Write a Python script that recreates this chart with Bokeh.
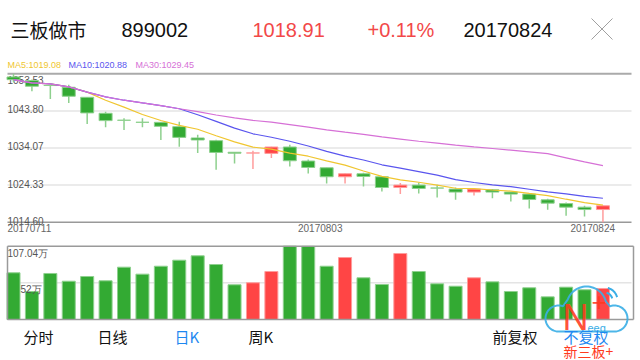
import numpy as np
from bokeh.plotting import figure
from bokeh.models import Range1d, ColumnDataSource
from bokeh.core.properties import value
from bokeh.embed import file_html
from bokeh.resources import INLINE

# ---------------- data ----------------
dates = ["20170711", "20170712", "20170713", "20170714", "20170717", "20170718", "20170719",
         "20170720", "20170721", "20170724", "20170725", "20170726", "20170727", "20170728",
         "20170731", "20170801", "20170802", "20170803", "20170804", "20170807", "20170808",
         "20170809", "20170810", "20170811", "20170814", "20170815", "20170816", "20170817",
         "20170818", "20170821", "20170822", "20170823", "20170824"]
opens = [1052.70, 1051.77, 1050.47, 1050.00, 1047.37, 1043.17, 1041.35, 1040.82, 1040.80, 1039.67,
         1036.70, 1035.99, 1032.95, 1032.74, 1032.65, 1034.33, 1030.65, 1028.88, 1026.52, 1027.31,
         1026.52, 1023.70, 1024.33, 1023.57, 1023.28, 1022.50, 1023.10, 1022.50, 1021.97, 1020.47,
         1019.49, 1018.55, 1017.92]
highs = [1053.53, 1052.03, 1050.50, 1050.64, 1047.40, 1043.60, 1041.85, 1041.85, 1040.90, 1040.98,
         1037.56, 1036.25, 1032.95, 1033.36, 1034.40, 1034.93, 1031.07, 1028.90, 1027.35, 1027.57,
         1026.60, 1024.86, 1025.00, 1024.41, 1023.70, 1023.30, 1023.28, 1022.50, 1022.00, 1020.73,
         1019.76, 1018.89, 1018.91]
lows = [1051.30, 1048.95, 1046.95, 1045.90, 1040.38, 1039.48, 1038.80, 1039.48, 1036.17, 1034.41,
        1032.75, 1028.36, 1030.00, 1028.54, 1031.43, 1029.23, 1027.38, 1024.75, 1024.75, 1023.97,
        1022.65, 1021.97, 1022.12, 1021.07, 1020.47, 1021.60, 1020.90, 1020.02, 1018.18, 1017.84,
        1016.26, 1016.08, 1014.60]
closes = [1052.00, 1050.27, 1050.45, 1047.64, 1043.27, 1041.25, 1041.33, 1040.80, 1039.75, 1036.85,
          1036.17, 1032.90, 1032.70, 1032.78, 1034.33, 1030.72, 1028.96, 1026.52, 1027.31, 1026.60,
          1023.70, 1024.33, 1023.44, 1023.55, 1022.50, 1023.28, 1022.50, 1021.97, 1020.55, 1019.60,
          1018.55, 1017.92, 1018.91]
volumes = [68.2, 40.9, 67.2, 55.9, 62.8, 56.5, 76.4, 66.2, 77.8, 86.6, 93.0, 80.3, 50.7, 53.6, 70.1,
           107.04, 106.8, 77.8, 90.5, 60.9, 51.1, 96.4, 70.1, 52.1, 48.6, 60.9, 55.0, 40.9, 46.3,
           33.1, 47.2, 43.4, 45.3]
ma5 = [1052.00, 1051.14, 1050.91, 1050.09, 1048.73, 1046.58, 1044.79, 1042.86, 1041.28, 1040.00,
       1038.98, 1037.29, 1035.68, 1034.29, 1033.79, 1032.70, 1031.91, 1030.67, 1029.57, 1028.02,
       1026.62, 1025.69, 1025.08, 1024.32, 1023.50, 1023.42, 1023.05, 1022.76, 1022.16, 1021.58,
       1020.63, 1019.72, 1019.08]
ma10 = [1052.00, 1051.14, 1050.91, 1050.09, 1048.73, 1047.48, 1046.60, 1045.88, 1045.20, 1044.36,
        1042.78, 1041.04, 1039.27, 1037.79, 1036.89, 1035.84, 1034.60, 1033.18, 1031.93, 1030.91,
        1029.66, 1028.80, 1027.87, 1026.95, 1025.76, 1025.02, 1024.37, 1023.92, 1023.24, 1022.54,
        1022.03, 1021.39, 1020.88]
ma30 = [1052.00, 1051.14, 1050.91, 1050.09, 1048.73, 1047.48, 1046.60, 1045.88, 1045.20, 1044.36,
        1043.62, 1042.72, 1041.96, 1041.30, 1040.84, 1040.21, 1039.54, 1038.82, 1038.21, 1037.63,
        1036.97, 1036.40, 1035.83, 1035.32, 1034.81, 1034.36, 1033.93, 1033.50, 1033.05, 1032.60,
        1031.49, 1030.41, 1029.45]
price_ticks = [1053.53, 1043.80, 1034.07, 1024.33, 1014.60]
vol_max = 107.04
vol_tick_labels = ["107.04万", "52万"]
date_labels = ["20170711", "20170803", "20170824"]
header_texts = ["三板做市", "899002", "1018.91", "+0.11%", "20170824"]
nav_texts = ["分时", "日线", "日K", "周K", "前复权", "不复权"]

# ---------------- layout ----------------
W, H = 640, 360
X0_PX, STEP_PX = 13.0, 18.42          # screen x of first candle and spacing
P_TOP_PX, P_BOT_PX = 73.3, 221.7      # price pane
V_TOP_PX, V_BOT_PX = 245.7, 319.0     # volume pane
SCR_T, SCR_B, SCR_L, SCR_R = 0, H, 0, W

pmax, pmin = price_ticks[0], price_ticks[-1]
ps = (P_BOT_PX - P_TOP_PX) / (pmax - pmin)
y_lo = pmin - (SCR_B - P_BOT_PX) / ps
y_hi = pmax + (P_TOP_PX - SCR_T) / ps
vs = (V_BOT_PX - V_TOP_PX) / vol_max
v_lo = -(SCR_B - V_BOT_PX) / vs
v_hi = vol_max + (V_TOP_PX - SCR_T) / vs
x_lo = (SCR_L - X0_PX) / STEP_PX
x_hi = (SCR_R - X0_PX) / STEP_PX

p = figure(width=W, height=H, x_range=Range1d(x_lo, x_hi), y_range=Range1d(y_lo, y_hi),
           x_axis_type=None, y_axis_type=None, toolbar_location=None, output_backend="svg",
           min_border=0, outline_line_color=None)
p.grid.visible = False
p.extra_y_ranges = {"vol": Range1d(v_lo, v_hi), "sy": Range1d(SCR_B, SCR_T)}
p.extra_x_ranges = {"sx": Range1d(SCR_L, SCR_R)}

GREEN, GREEN_L = "#33AA33", "#8ED08E"
RED, RED_L = "#FF4545", "#FF9C9C"
C_MA5, C_MA10, C_MA30 = "#F0C630", "#5A55EE", "#D670D6"
NUM_FONT = value("Liberation Sans")
CJK_FONT = value("Noto Sans CJK SC")

idx = np.arange(len(dates))
up = [c > o for o, c in zip(opens, closes)]
fill = [RED if u else GREEN for u in up]
light = [RED_L if u else GREEN_L for u in up]

xl, xr = (7 - X0_PX) / STEP_PX, (631 - X0_PX) / STEP_PX

# price pane grid / borders
p.segment(x0=[xl] * 3, x1=[xr] * 3, y0=price_ticks[1:4], y1=price_ticks[1:4],
          line_color="#E4E4E4", line_width=1.5)
p.segment(x0=[xl], x1=[xr], y0=[pmax], y1=[pmax], line_color="#AAAAAA", line_width=2)
p.segment(x0=[xl], x1=[xr], y0=[pmin], y1=[pmin], line_color="#999999", line_width=1.5)

# price tick labels
p.text(x=[xl], y=[pmax], text=["%.2f" % pmax], text_font=NUM_FONT, text_font_size="10px",
       text_color="#555555", text_baseline="top", y_offset=2)
p.text(x=[xl] * 4, y=price_ticks[1:], text=["%.2f" % t for t in price_ticks[1:]],
       text_font=NUM_FONT, text_font_size="10px", text_color="#555555",
       text_baseline="alphabetic", y_offset=-1.5)

# candles
src = ColumnDataSource(dict(x=idx, o=opens, h=highs, l=lows, c=closes,
                            top=[max(a, b) for a, b in zip(opens, closes)],
                            bot=[min(a, b) for a, b in zip(opens, closes)],
                            fill=fill, light=light, vol=volumes))
p.segment(x0="x", x1="x", y0="h", y1="l", line_color="light", line_width=1.5, source=src)
p.vbar(x="x", width=13 / STEP_PX, top="top", bottom="bot", fill_color="fill",
       line_color="light", line_width=1, source=src)

# moving averages
p.line(idx, ma5, line_color=C_MA5, line_width=1.2)
p.line(idx, ma10, line_color=C_MA10, line_width=1.2)
p.line(idx, ma30, line_color=C_MA30, line_width=1.2)

# MA legend
p.text(x=[7, 68, 135], y=[64.7] * 3,
       text=["MA5:%.2f" % ma5[-1], "MA10:%.2f" % ma10[-1], "MA30:%.2f" % ma30[-1]],
       text_color=[C_MA5, C_MA10, C_MA30], text_font=NUM_FONT, text_font_size="9px",
       text_baseline="middle", x_range_name="sx", y_range_name="sy")

# date labels
p.text(x=[xl, 16.65, 31.45], y=[227] * 3, text=date_labels, text_align=["left", "center", "center"],
       text_font=NUM_FONT, text_font_size="10px", text_color="#666666", text_baseline="middle",
       y_range_name="sy")

# volume pane
p.segment(x0=[xl], x1=[xr], y0=[vol_max / 2], y1=[vol_max / 2], line_color="#E4E4E4",
          line_width=1.5, y_range_name="vol")
p.vbar(x="x", width=13 / STEP_PX, top="vol", bottom=0, fill_color="fill", line_color="light",
       line_width=1, source=src, y_range_name="vol")
bl, br = (7 - X0_PX) / STEP_PX, (633 - X0_PX) / STEP_PX
p.segment(x0=[bl, bl, bl, br], x1=[br, br, bl, br], y0=[vol_max, 0, 0, 0],
          y1=[vol_max, 0, vol_max, vol_max], line_color="#9A9A9A", line_width=1.5,
          y_range_name="vol")
p.text(x=[xl, (20 - X0_PX) / STEP_PX], y=[vol_max, vol_max / 2], text=vol_tick_labels,
       text_font=NUM_FONT, text_font_size="10px", text_color="#555555", text_baseline="top",
       y_offset=[2, 1], y_range_name="vol")

# header
p.text(x=[10], y=[29], text=[header_texts[0]], text_font=CJK_FONT, text_font_size="19px",
       text_color="#111111", text_baseline="middle", x_range_name="sx", y_range_name="sy")
p.text(x=[121, 252, 367, 463], y=[29] * 4, text=header_texts[1:],
       text_color=["#111111", "#F24848", "#F24848", "#111111"], text_font=NUM_FONT,
       text_font_size="20px", text_baseline="middle", x_range_name="sx", y_range_name="sy")
p.segment(x0=[591, 612], x1=[612, 591], y0=[18, 18], y1=[39, 39], line_color="#A0A0A0",
          line_width=1, x_range_name="sx", y_range_name="sy")

# bottom nav
p.text(x=[23, 97, 174, 248, 492], y=[335.5] * 5, text=nav_texts[:5],
       text_color=["#111111", "#111111", "#1E88F0", "#111111", "#111111"], text_font=CJK_FONT,
       text_font_size="15px", text_baseline="middle", x_range_name="sx", y_range_name="sy")

# watermark logo (decoration)
def arc(cx, cy, r, a0, a1, n=30):
    t = np.radians(np.linspace(a0, a1, n))
    return list(cx + r * np.cos(t)), list(cy + r * np.sin(t))

xs, ys = [], []
for (cx, cy, r, a0, a1) in [(558, 318, 13, 90, 290), (586, 306, 20, 200, 345), (614, 318, 13, 250, 450)]:
    ax, ay = arc(cx, cy, r, a0, a1)
    xs += ax
    ys += ay
xs.append(558)
ys.append(331)
p.line(xs, ys, line_color="#3AAEE6", line_width=2, line_alpha=0.9, x_range_name="sx", y_range_name="sy")
for r in (8, 13):
    ax, ay = arc(604, 300, r, 285, 345, 12)
    p.line(ax, ay, line_color="#3AAEE6", line_width=2, x_range_name="sx", y_range_name="sy")
p.text(x=[562], y=[317], text=["N"], text_font=NUM_FONT, text_font_size="36px",
       text_color="#FF3A1E", text_alpha=0.9, text_baseline="middle", x_range_name="sx", y_range_name="sy")
p.text(x=[591], y=[301], text=["+"], text_font=NUM_FONT, text_font_size="26px",
       text_color="#FF3A1E", text_alpha=0.9, text_baseline="middle", x_range_name="sx", y_range_name="sy")
p.text(x=[587], y=[327], text=["eeq"], text_font=NUM_FONT, text_font_size="11px",
       text_color="#3AAEE6", text_baseline="middle", x_range_name="sx", y_range_name="sy")
p.text(x=[563], y=[336], text=[nav_texts[5]], text_font=CJK_FONT, text_font_size="15px",
       text_color="#1E88F0", text_baseline="middle", x_range_name="sx", y_range_name="sy")
p.text(x=[563], y=[350], text=["新三板+"], text_font=CJK_FONT, text_font_size="14px",
       text_color="#FF3A1E", text_baseline="middle", x_range_name="sx", y_range_name="sy")

open("out.html", "w").write(file_html(p, INLINE))
